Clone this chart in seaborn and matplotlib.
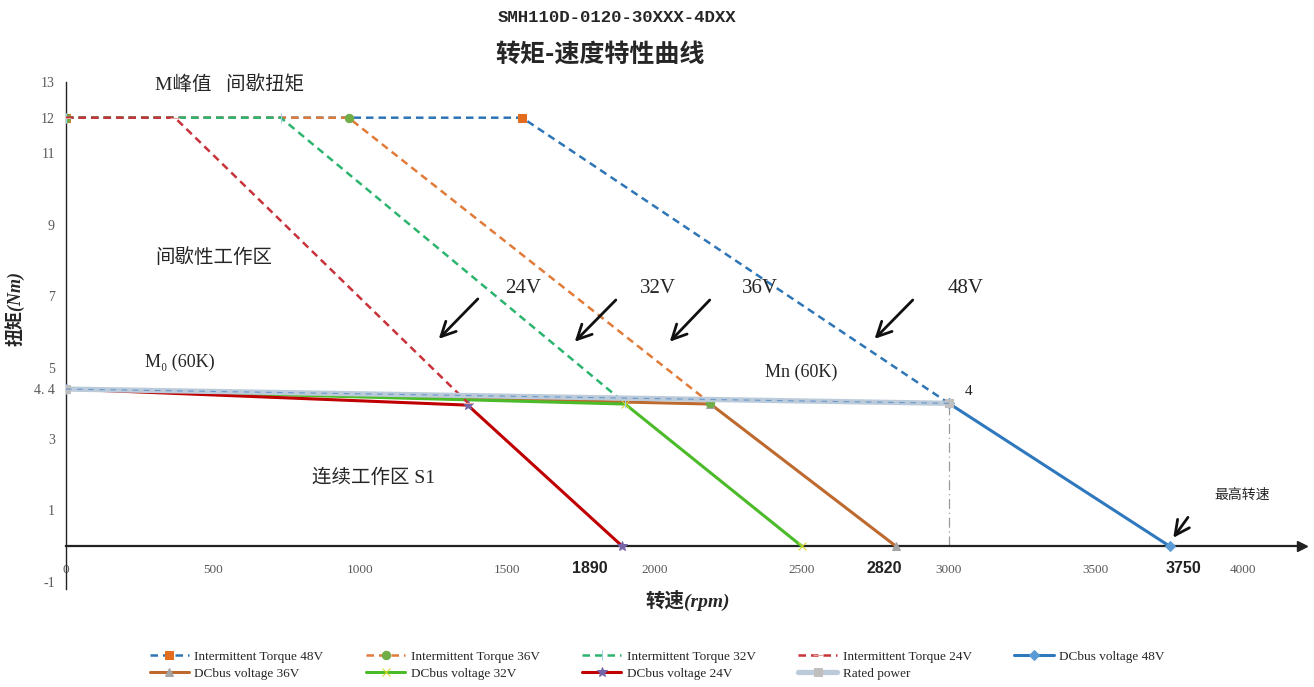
import matplotlib
matplotlib.use("Agg")
import matplotlib.pyplot as plt
import seaborn as sns
import pandas as pd

# ---------------- data ----------------
it48_x = [0, 1550, 3000]
it48_y = [12, 12, 4.0]
it36_x = [0, 960, 2190]
it36_y = [12, 12, 4.0]
it32_x = [0, 730, 1900]
it32_y = [12, 12, 4.0]
it24_x = [0, 370, 1365]
it24_y = [12, 12, 4.02]
dc48_x = [0, 3000, 3750]
dc48_y = [4.4, 4.0, 0]
dc36_x = [0, 2190, 2820]
dc36_y = [4.4, 3.98, 0]
dc32_x = [0, 1900, 2500]
dc32_y = [4.4, 3.98, 0]
dc24_x = [0, 1365, 1890]
dc24_y = [4.4, 3.95, 0]
rated_x = [0, 3000]
rated_y = [4.4, 4.0]

series_names = ["Intermittent Torque 48V", "Intermittent Torque 36V",
                "Intermittent Torque 32V", "Intermittent Torque 24V",
                "DCbus voltage 48V", "DCbus voltage 36V", "DCbus voltage 32V",
                "DCbus voltage 24V", "Rated power"]
x_ticks = [0, 500, 1000, 1500, 2000, 2500, 3000, 3500, 4000]
y_ticks = [-1, 1, 3, 4.4, 5, 7, 9, 11, 12, 13]
y_tick_labels = ["-1", "1", "3", "4. 4", "5", "7", "9", "11", "12", "13"]
speed_marks = ["1890", "2820", "3750"]

# ---------------- style ----------------
sns.set_theme(style="white")
plt.rcParams["font.family"] = ["Liberation Serif", "Noto Sans CJK SC"]
plt.rcParams["axes.unicode_minus"] = False
CJK = ["Liberation Serif", "Noto Sans CJK SC"]

fig = plt.figure(figsize=(13.14, 6.87), dpi=100)
ax = fig.add_axes([66 / 1314, 1 - 589 / 687, (1302 - 66) / 1314, (589 - 82) / 687])

styles = {
    "Intermittent Torque 48V": dict(x=it48_x, y=it48_y, color="#2E75B6", ls=(0, (3, 2)), lw=1.8,
                                    marker="s", mfc="#E46C1E", mec="#E46C1E", ms=6, z=3),
    "Intermittent Torque 36V": dict(x=it36_x, y=it36_y, color="#E07B39", ls=(0, (3, 2)), lw=1.8,
                                    marker="o", mfc="#70AD47", mec="#70AD47", ms=6, z=3),
    "Intermittent Torque 32V": dict(x=it32_x, y=it32_y, color="#2DB46E", ls=(0, (3, 2)), lw=1.8,
                                    marker="|", mfc="#9DD3E8", mec="#9DD3E8", ms=7, z=3),
    "Intermittent Torque 24V": dict(x=it24_x, y=it24_y, color="#C8323A", ls=(0, (3, 2)), lw=1.8,
                                    marker="_", mfc="#E8A0A0", mec="#E8A0A0", ms=7, z=3),
    "DCbus voltage 48V": dict(x=dc48_x, y=dc48_y, color="#2E78BE", ls="-", lw=2.2,
                              marker="D", mfc="#5B9BD5", mec="#5B9BD5", ms=5, z=2.6),
    "DCbus voltage 36V": dict(x=dc36_x, y=dc36_y, color="#BE6A2E", ls="-", lw=2.2,
                              marker="^", mfc="#A5A5A5", mec="#A5A5A5", ms=6, z=2.7),
    "DCbus voltage 32V": dict(x=dc32_x, y=dc32_y, color="#4CBB2A", ls="-", lw=2.2,
                              marker="x", mfc="#D6D62A", mec="#D6D62A", ms=6, z=2.8),
    "DCbus voltage 24V": dict(x=dc24_x, y=dc24_y, color="#C00000", ls="-", lw=2.2,
                              marker="*", mfc="#7565A8", mec="#7565A8", ms=7, z=2.9),
    "Rated power": dict(x=rated_x, y=rated_y, color="#BCCBDA", ls="-", lw=3.8,
                        marker="s", mfc="#BFBFBF", mec="#BFBFBF", ms=6, z=3.1),
}

for name in series_names:
    s = styles[name]
    df = pd.DataFrame({"x": s["x"], "y": s["y"]})
    sns.lineplot(data=df, x="x", y="y", ax=ax, sort=False, estimator=None,
                 color=s["color"], linestyle=s["ls"], linewidth=s["lw"],
                 marker=s["marker"], markerfacecolor=s["mfc"],
                 markeredgecolor=s["mec"], markersize=s["ms"], label=name,
                 zorder=s["z"])

# thin dashed blue overlay on the rated-power band
ax.plot(rated_x, rated_y, color="#6A98CC", lw=0.8, ls=(0, (5, 5)), zorder=3.2)
# vertical dash-dot guide at rated speed
ax.vlines(rated_x[-1], 0, rated_y[-1], color="#9A9A9A", lw=0.9, ls=(0, (8, 3, 1, 3)), zorder=2)

# ---------------- axes ----------------
ax.set_xlim(0, 4200)
ax.set_ylim(-1.2, 13)
for sp in ["top", "right"]:
    ax.spines[sp].set_visible(False)
ax.spines["bottom"].set_position(("data", 0))
ax.spines["bottom"].set_linewidth(1.6)
ax.spines["bottom"].set_color("#222222")
ax.spines["left"].set_color("#222222")
ax.spines["left"].set_linewidth(1.0)
ax.spines["left"].set_bounds(-1.2, 13)
ax.plot(1, 0, ">", color="#222222", ms=7, transform=ax.get_yaxis_transform(), clip_on=False)

ax.set_xticks(x_ticks)
ax.set_xticklabels([str(v) for v in x_ticks])
ax.set_yticks(y_ticks)
ax.set_yticklabels(y_tick_labels)
ax.tick_params(axis="x", direction="out", length=4, width=1, color="#333333",
               labelsize=9.5, labelcolor="#595959", pad=9)
ax.tick_params(axis="y", direction="out", length=4, width=1, color="#333333",
               labelsize=10, labelcolor="#595959", pad=4)
ax.set_xlabel("")
ax.set_ylabel("")

for lbl, xv in zip(speed_marks, [1780, 2779, 3797]):
    ax.text(xv, -0.62, lbl, ha="center", va="center", fontsize=11.5,
            family=["Liberation Sans"], color="#222222", fontweight="bold")

# ---------------- annotations ----------------
ax.text(302, 12.93, "M峰值   间歇扭矩", fontsize=14, family=CJK, va="center", ha="left")
ax.text(302, 8.07, "间歇性工作区", fontsize=14, family=CJK, va="center", ha="left")
ax.text(268, 5.14, "M₀ (60K)", fontsize=13, family=["Liberation Serif", "DejaVu Serif"],
        va="center", ha="left")
ax.text(2374, 4.86, "Mn (60K)", fontsize=13, va="center", ha="left")
ax.text(3054, 4.33, "4", fontsize=11, va="center", ha="left")
ax.text(836, 1.9, "连续工作区 S1", fontsize=14, family=CJK, va="center", ha="left")
ax.text(3903, 1.42, "最高转速", fontsize=10, family=CJK, va="center", ha="left")

for txt, xv in zip(["24V", "32V", "36V", "48V"], [1491, 1950, 2296, 2996]):
    ax.text(xv, 7.23, txt, fontsize=15, va="center", ha="left")

arrows = [((1260, 5.75), (1406, 6.98)), ((1722, 5.67), (1875, 6.95)),
          ((2045, 5.67), (2194, 6.95)), ((2741, 5.75), (2884, 6.95)),
          ((3757, 0.17), (3818, 0.87))]
for head, tail in arrows:
    ax.annotate("", xy=head, xytext=tail,
                arrowprops=dict(arrowstyle="->", lw=2, color="#111111", mutation_scale=26))

# axis labels
fig.text(688 / 1314, 1 - 600 / 687, "转速(rpm)", fontsize=14, family=CJK,
         fontweight="bold", style="italic", ha="center", va="center")
fig.text(15 / 1314, 1 - 308 / 687, "扭矩(Nm)", fontsize=13, family=CJK,
         fontweight="bold", style="italic", ha="center", va="center", rotation=90)

# titles
fig.text(617 / 1314, 1 - 18 / 687, "SMH110D-0120-30XXX-4DXX", fontsize=12.5,
         family=["Liberation Mono"], fontweight="bold", ha="center", va="center")
fig.text(600 / 1314, 1 - 55 / 687, "转矩-速度特性曲线", fontsize=18,
         family=["Noto Sans CJK SC"], fontweight="bold", ha="center", va="center")

# ---------------- legend ----------------
if ax.get_legend() is not None:
    ax.get_legend().remove()
handles, labels = ax.get_legend_handles_labels()
order = [0, 5, 1, 6, 2, 7, 3, 8, 4]
fig.legend([handles[i] for i in order], [labels[i] for i in order],
           loc="center", bbox_to_anchor=(0.5, 1 - 665 / 687), ncol=5, frameon=False,
           fontsize=9.5, handlelength=3, columnspacing=3.2, handletextpad=0.4,
           labelspacing=0.35)

fig.savefig("out.png", dpi=100)
